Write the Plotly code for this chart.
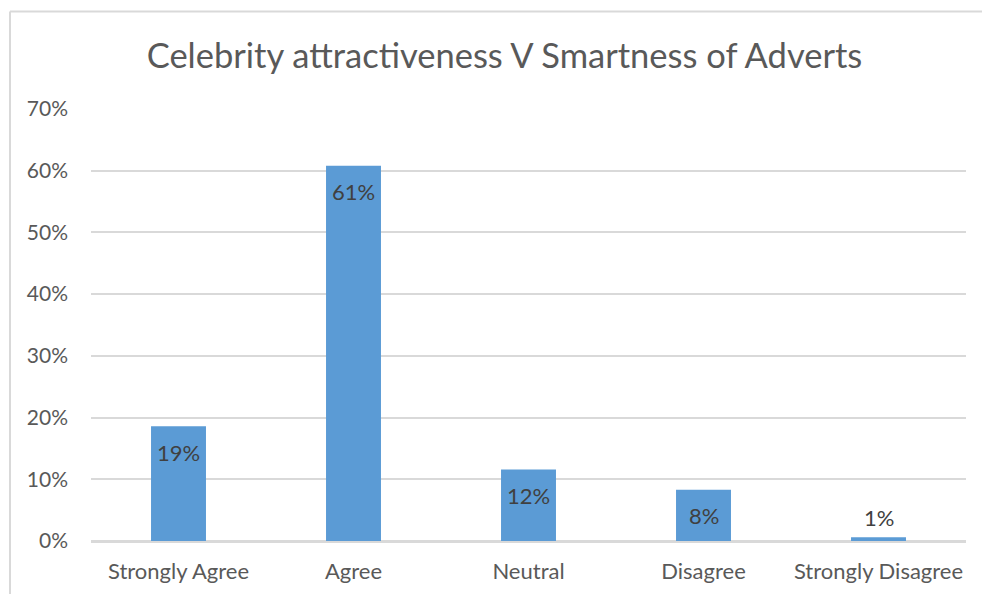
import plotly.graph_objects as go

# Survey responses: celebrity attractiveness vs. perceived smartness of adverts
categories = ["Strongly Agree", "Agree", "Neutral", "Disagree", "Strongly Disagree"]
shares = [0.186, 0.608, 0.116, 0.083, 0.006]
y_ticks = [0, 0.1, 0.2, 0.3, 0.4, 0.5, 0.6, 0.7]

W, H = 982, 594
M = dict(l=91, r=16, t=109, b=53)
plot_w = W - M["l"] - M["r"]
plot_h = H - M["t"] - M["b"]

FONT = "Lato, 'Open Sans', sans-serif"
GRID = "#d9d9d9"
TEXT = "#595959"

fig = go.Figure()
fig.add_trace(go.Bar(
    x=categories,
    y=shares,
    marker=dict(color="#5b9bd5", line=dict(width=0)),
    hoverinfo="skip",
))

# value labels: just inside the top of each bar, above it when the bar is too short
for cat, v in zip(categories, shares):
    fig.add_annotation(
        x=cat, y=v, xref="x", yref="y",
        text=f"{v:.0%}",
        showarrow=False,
        yanchor="middle",
        yshift=-26 if v >= 0.05 else 20,
        font=dict(family=FONT, size=22, color="#404040"),
    )

# outer chart frame (left and top edges visible)
def px_to_paper_x(px):
    return (px - M["l"]) / plot_w

def px_to_paper_y(py):
    return (H - M["b"] - py) / plot_h

frame = dict(color=GRID, width=2)
fig.add_shape(type="line", xref="paper", yref="paper",
              x0=px_to_paper_x(10), x1=px_to_paper_x(10),
              y0=px_to_paper_y(11.5), y1=px_to_paper_y(H + 10), line=frame)
fig.add_shape(type="line", xref="paper", yref="paper",
              x0=px_to_paper_x(10), x1=px_to_paper_x(W + 10),
              y0=px_to_paper_y(11.5), y1=px_to_paper_y(11.5), line=frame)

fig.update_layout(
    width=W, height=H,
    margin=M,
    paper_bgcolor="white",
    plot_bgcolor="white",
    showlegend=False,
    bargap=0.686,
    font=dict(family=FONT, color=TEXT),
    title=dict(
        text="Celebrity attractiveness V Smartness of Adverts",
        x=504.5 / W, xref="container", xanchor="center",
        y=1 - 56 / H, yref="container", yanchor="middle",
        font=dict(family=FONT, size=34.5, color=TEXT),
    ),
    xaxis=dict(
        automargin=False,
        showgrid=False,
        showline=True, linecolor=GRID, linewidth=2,
        ticks="", ticklabelstandoff=10,
        tickfont=dict(family=FONT, size=22, color=TEXT),
    ),
    yaxis=dict(
        automargin=False,
        range=[0, 0.7],
        tickvals=y_ticks,
        tickformat=".0%",
        showgrid=True, gridcolor=GRID, gridwidth=2,
        zeroline=True, zerolinecolor=GRID, zerolinewidth=2,
        showline=False, ticks="", ticklabelstandoff=22,
        tickfont=dict(family=FONT, size=21, color=TEXT),
    ),
)

fig.write_html("out.html")
